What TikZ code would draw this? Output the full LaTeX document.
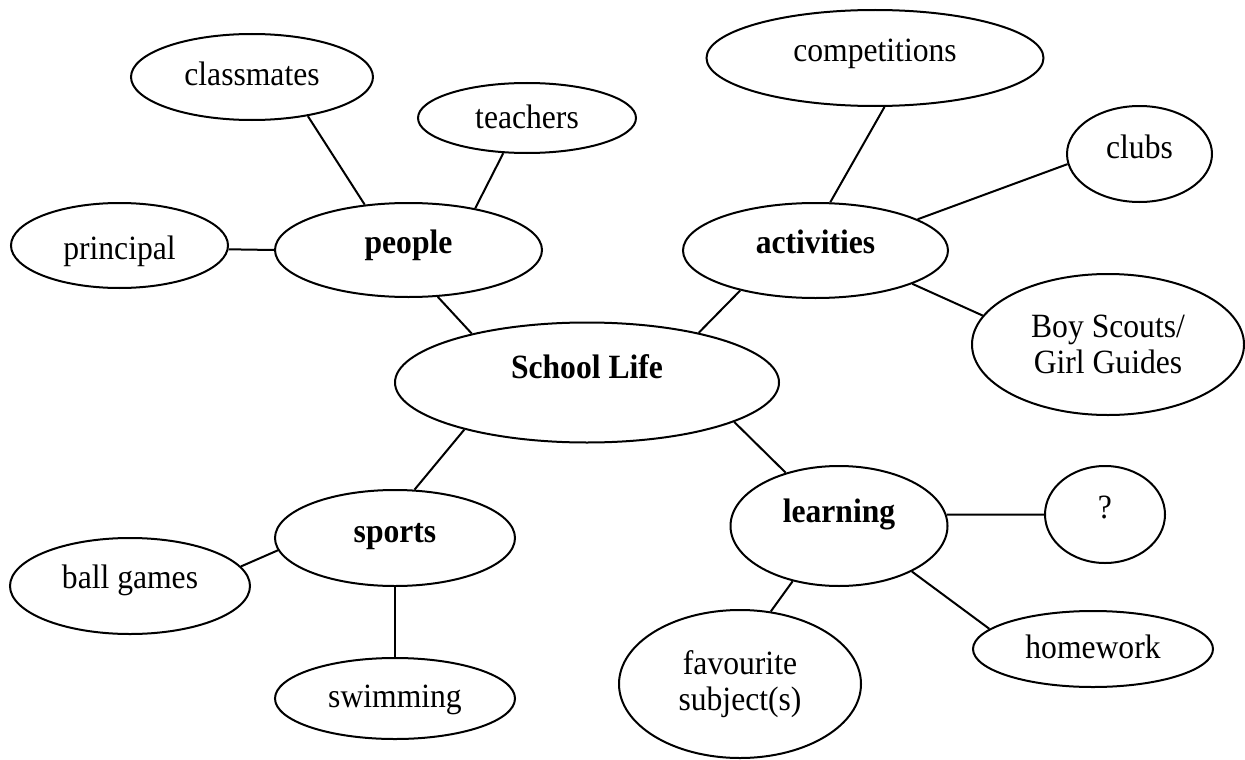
\documentclass[tikz,border=0pt]{standalone}
\usepackage{fontspec}
\setmainfont[FakeStretch=0.93]{Liberation Serif}
\usetikzlibrary{shapes.geometric}
\begin{document}
\begin{tikzpicture}[x=1pt,y=-1pt,
  bub/.style={ellipse,draw,line width=2pt,inner sep=0pt,align=center,
    font=\fontsize{34}{36}\selectfont},
  hub/.style={bub,font=\fontsize{34}{36}\selectfont\bfseries},
  bdown/.style={text height=#1,text depth=0pt},
  bup/.style={text height=0pt,text depth=#1},
  link/.style={line width=2pt}]
\useasboundingbox (0,0) rectangle (1245,760);
% nodes
\node[bub,bdown=16pt,minimum width=242,minimum height=86] (classmates) at (252,77) {classmates};
\node[bub,bdown=20pt,minimum width=218,minimum height=70] (teachers) at (527,118) {teachers};
\node[bub,bdown=28pt,minimum width=217,minimum height=85] (principal) at (119.5,245.5) {principal};
\node[hub,bdown=6pt,minimum width=267,minimum height=94] (people) at (408.5,250) {people};
\node[bub,bdown=8pt,minimum width=337,minimum height=96] (competitions) at (875,58) {competitions};
\node[bub,bdown=8pt,minimum width=145,minimum height=96] (clubs) at (1139.5,154) {clubs};
\node[hub,bdown=5pt,minimum width=265,minimum height=95] (activities) at (815.5,250.5) {activities};
\node[bub,minimum width=272,minimum height=141] (scouts) at (1108,344.5) {Boy Scouts/\\Girl Guides};
\node[hub,bup=9pt,minimum width=384,minimum height=120] (school) at (587,382.5) {School Life};
\node[hub,bdown=8pt,minimum width=240,minimum height=96] (sports) at (395,538) {sports};
\node[bub,bdown=4pt,minimum width=240,minimum height=96] (ball) at (130,586) {ball games};
\node[bub,bdown=17pt,minimum width=240,minimum height=81] (swimming) at (395,698.5) {swimming};
\node[hub,bup=8pt,minimum width=217,minimum height=120] (learning) at (839,526) {learning};
\node[bub,bdown=7pt,minimum width=120,minimum height=97] (q) at (1105,514.5) {?};
\node[bub,minimum width=242,minimum height=148] (fav) at (740,684) {favourite\\subject(s)};
\node[bub,bdown=18pt,minimum width=240,minimum height=76] (homework) at (1093,649) {homework};
% connectors
\draw[link] (classmates.-35) -- (people.134);
\draw[link] (teachers.-124) -- (people.32);
\draw[link] (principal.-2.4) -- (people.180);
\draw[link] (people.-58) -- (school.157.6);
\draw[link] (competitions.-79.6) -- (activities.73.4);
\draw[link] (clubs.-172) -- (activities.17.8);
\draw[link] (activities.-19.6) -- (scouts.167.7);
\draw[link] (activities.-152.7) -- (school.24.7);
\draw[link] (school.-15) -- (learning.135);
\draw[link] (school.-159) -- (sports.68.4);
\draw[link] (sports.-174.2) -- (ball.10.1);
\draw[link] (sports.south) -- (swimming.north);
\draw[link] (learning.6.8) -- (q.180);
\draw[link] (learning.-130.6) -- (fav.67.4);
\draw[link] (learning.-32.6) -- (homework.169.9);
\end{tikzpicture}
\end{document}
